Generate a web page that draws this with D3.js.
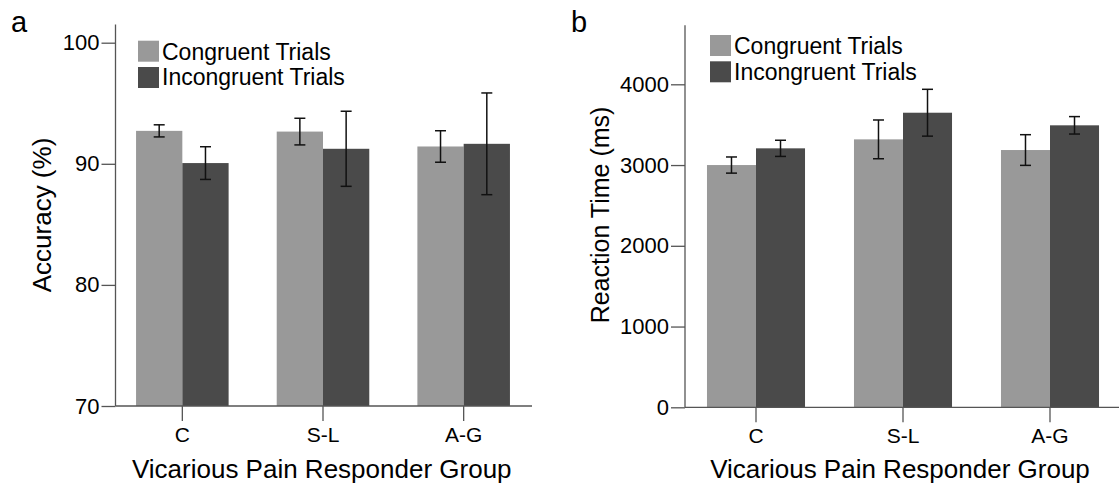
<!DOCTYPE html>
<html><head><meta charset="utf-8">
<script src="https://cdn.jsdelivr.net/npm/d3@7"></script>
<style>body{margin:0;background:#fff}svg{display:block}text{font-family:"Liberation Sans",Arial,sans-serif;fill:#000}</style>
</head><body>
<svg id="c" width="1119" height="486"></svg>
<script>
const groups = ["C", "S-L", "A-G"];
const seriesNames = ["Congruent Trials", "Incongruent Trials"];
const accCongruent = [92.72, 92.66, 91.43];
const accCongruentErr = [0.5, 1.1, 1.3];
const accIncongruent = [90.06, 91.24, 91.65];
const accIncongruentErr = [1.35, 3.1, 4.2];
const rtCongruent = [3000, 3318, 3186];
const rtCongruentErr = [100, 240, 190];
const rtIncongruent = [3207, 3648, 3492];
const rtIncongruentErr = [100, 290, 108];
const accTicks = [70, 80, 90, 100];
const rtTicks = [0, 1000, 2000, 3000, 4000];
const colors = ["#999999", "#4a4a4a"];

const svg = d3.select("#c");
const axisColor = "#555";

function panel(o) {
  const g = svg.append("g");
  const x0 = d3.scaleBand().domain(groups).range(o.xRange).paddingInner(o.padIn).paddingOuter(o.padIn / 2);
  const x1 = d3.scaleBand().domain(seriesNames).range([0, x0.bandwidth()]);
  const y = d3.scaleLinear().domain(o.yDomain).range(o.yRange);
  const base = y(o.yDomain[0]);
  const data = [];
  groups.forEach((gr, i) => {
    data.push({g: gr, s: seriesNames[0], v: o.v1[i], e: o.e1[i], c: colors[0]});
    data.push({g: gr, s: seriesNames[1], v: o.v2[i], e: o.e2[i], c: colors[1]});
  });
  g.selectAll("rect.bar").data(data).enter().append("rect")
    .attr("x", d => x0(d.g) + x1(d.s)).attr("width", x1.bandwidth())
    .attr("y", d => y(d.v)).attr("height", d => base - y(d.v)).attr("fill", d => d.c);
  const cap = 5.5;
  const cx = d => x0(d.g) + x1(d.s) + x1.bandwidth() / 2;
  const eb = g.selectAll("g.eb").data(data).enter().append("g")
    .attr("stroke", "#111").attr("stroke-width", 1.5);
  eb.append("line").attr("x1", cx).attr("x2", cx)
    .attr("y1", d => y(d.v + d.e)).attr("y2", d => y(d.v - d.e));
  eb.append("line").attr("x1", d => cx(d) - cap).attr("x2", d => cx(d) + cap)
    .attr("y1", d => y(d.v + d.e)).attr("y2", d => y(d.v + d.e));
  eb.append("line").attr("x1", d => cx(d) - cap).attr("x2", d => cx(d) + cap)
    .attr("y1", d => y(d.v - d.e)).attr("y2", d => y(d.v - d.e));

  // y axis
  const ya = g.append("g").attr("transform", `translate(${o.axisX},0)`)
    .call(d3.axisLeft(y).tickValues(o.ticks).tickFormat(d3.format("d")).tickSize(14).tickPadding(2));
  ya.select(".domain").remove();
  ya.selectAll(".tick line").attr("stroke", axisColor).attr("stroke-width", 1.3);
  ya.selectAll(".tick text").attr("font-size", 22).attr("font-family", "Liberation Sans, Arial, sans-serif").attr("fill", "#000");
  g.append("line").attr("x1", o.axisX).attr("x2", o.axisX).attr("y1", y(o.yTop)).attr("y2", base)
    .attr("stroke", axisColor).attr("stroke-width", 1.3);
  // x axis
  g.append("line").attr("x1", o.axisX).attr("x2", o.xEnd).attr("y1", base).attr("y2", base)
    .attr("stroke", axisColor).attr("stroke-width", 1.3);
  const xa = g.append("g").attr("transform", `translate(0,${base})`)
    .call(d3.axisBottom(x0).tickSize(15).tickPadding(6));
  xa.select(".domain").remove();
  xa.selectAll(".tick line").attr("stroke", axisColor).attr("stroke-width", 1.3);
  xa.selectAll(".tick text").attr("font-size", 21).attr("font-family", "Liberation Sans, Arial, sans-serif").attr("fill", "#000");

  // titles
  g.append("text").attr("x", (o.axisX + o.xEnd) / 2 - 2).attr("y", 478).attr("text-anchor", "middle")
    .attr("font-size", 26).text("Vicarious Pain Responder Group");
  g.append("text").attr("transform", `translate(${o.yLabelX},215) rotate(-90)`).attr("text-anchor", "middle")
    .attr("font-size", o.yLabelSize).text(o.yLabel);
  g.append("text").attr("x", o.panelX).attr("y", 32).attr("font-size", 29).text(o.panel);

  // legend
  seriesNames.forEach((s, i) => {
    g.append("rect").attr("x", o.legX).attr("y", o.legY + i * 26.3).attr("width", 21).attr("height", 21).attr("fill", colors[i]);
    g.append("text").attr("x", o.legX + 24).attr("y", o.legY + 19.3 + i * 25.3).attr("font-size", 23).text(s);
  });
}

panel({
  xRange: [112, 534], padIn: 0.342, yDomain: [70, 100], yRange: [406, 42.7], yTop: 101.5,
  v1: accCongruent, e1: accCongruentErr, v2: accIncongruent, e2: accIncongruentErr,
  ticks: accTicks, axisX: 115.5, xEnd: 532, yLabel: "Accuracy (%)", yLabelX: 51, yLabelSize: 26,
  panel: "a", panelX: 11, legX: 138, legY: 40.7
});
panel({
  xRange: [682.5, 1123.5], padIn: 0.333, yDomain: [0, 4000], yRange: [407.3, 84.3], yTop: 4730,
  v1: rtCongruent, e1: rtCongruentErr, v2: rtIncongruent, e2: rtIncongruentErr,
  ticks: rtTicks, axisX: 685, xEnd: 1119, yLabel: "Reaction Time (ms)", yLabelX: 609, yLabelSize: 25,
  panel: "b", panelX: 571, legX: 710, legY: 35
});
</script>
</body></html>
